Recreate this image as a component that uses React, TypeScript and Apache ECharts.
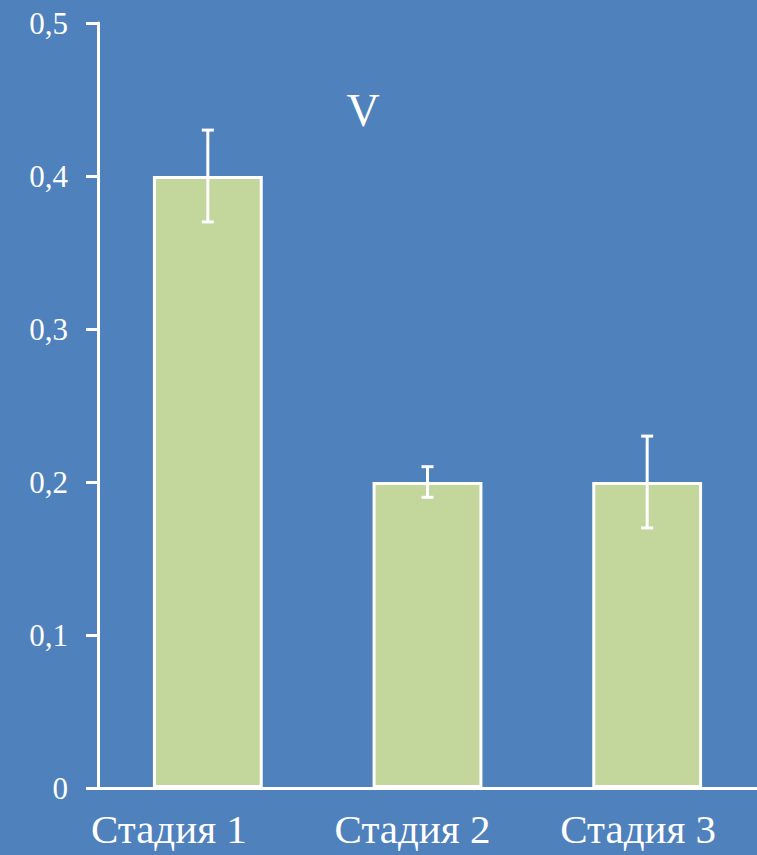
import React, { useEffect, useRef } from "react";
import * as echarts from "echarts";

const categories = ["Стадия 1", "Стадия 2", "Стадия 3"];
const values = [0.4, 0.2, 0.2];
const errLow = [0.37, 0.19, 0.17];
const errHigh = [0.43, 0.21, 0.23];
const yTicks = { min: 0, max: 0.5, interval: 0.1 };
const titleText = "V";

export default function App() {
  const ref = useRef<HTMLDivElement>(null);
  useEffect(() => {
    const chart = echarts.init(ref.current!, null, { renderer: "svg" });
    const pads = [78, 30, 18];
    const ff = "'Liberation Serif', 'DejaVu Serif', serif";
    chart.setOption({
      animation: false,
      backgroundColor: "#4f81bd",
      title: {
        text: titleText,
        left: 358,
        top: 82,
        textAlign: "center",
        textStyle: { color: "#fff", fontFamily: ff, fontWeight: "normal", fontSize: 46 },
      },
      grid: { left: 98, right: 0, top: 23, bottom: 67 },
      xAxis: {
        type: "category",
        data: categories,
        axisLine: { lineStyle: { color: "#fff", width: 3 } },
        axisTick: { show: false },
        axisLabel: {
          color: "#fff",
          margin: 20,
          interval: 0,
          hideOverlap: false,
          fontFamily: ff,
          fontSize: 41,
          formatter: (v: string, i: number) => `{l${i}|${v}}`,
          rich: Object.fromEntries(
            pads.map((p, i) => [
              `l${i}`,
              { color: "#fff", fontFamily: ff, fontSize: 41, padding: [0, p, 0, 0] },
            ])
          ),
        },
      },
      yAxis: {
        type: "value",
        min: yTicks.min,
        max: yTicks.max,
        interval: yTicks.interval,
        splitLine: { show: false },
        axisLine: { show: true, lineStyle: { color: "#fff", width: 3 } },
        axisTick: { show: true, inside: false, length: 12, lineStyle: { color: "#fff", width: 3 } },
        axisLabel: {
          color: "#fff",
          margin: 30,
          fontFamily: ff,
          fontSize: 31,
          formatter: (v: number) => (v === 0 ? "0" : v.toFixed(1).replace(".", ",")),
        },
      },
      series: [
        {
          type: "bar",
          data: values,
          barWidth: "50%",
          itemStyle: { color: "#c3d69b", borderColor: "#fff", borderWidth: 3 },
        },
        {
          type: "custom",
          data: categories.map((_, i) => [i, errLow[i], errHigh[i]]),
          renderItem: (params: any, api: any) => {
            const lo = api.coord([api.value(0), api.value(1)]);
            const hi = api.coord([api.value(0), api.value(2)]);
            const x = lo[0];
            const hw = 6;
            const st = { stroke: "#fff", lineWidth: 3 };
            return {
              type: "group",
              children: [
                { type: "line", shape: { x1: x, y1: lo[1], x2: x, y2: hi[1] }, style: st },
                { type: "line", shape: { x1: x - hw, y1: lo[1], x2: x + hw, y2: lo[1] }, style: st },
                { type: "line", shape: { x1: x - hw, y1: hi[1], x2: x + hw, y2: hi[1] }, style: st },
              ],
            };
          },
          z: 10,
        },
      ],
    });
    return () => chart.dispose();
  }, []);
  return <div ref={ref} style={{ width: 757, height: 855, position: "absolute", left: 0, top: 0 }} />;
}
